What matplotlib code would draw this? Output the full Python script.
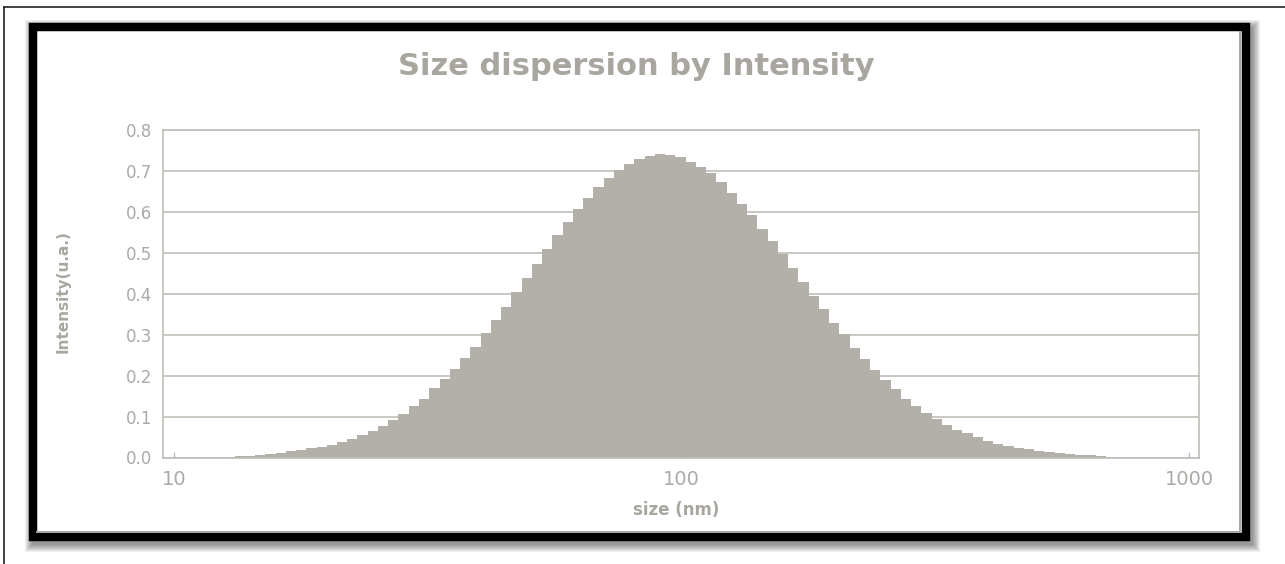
import numpy as np
import matplotlib
matplotlib.use('Agg')
import matplotlib.pyplot as plt
from matplotlib.patches import Rectangle
from matplotlib.lines import Line2D
from matplotlib.ticker import NullLocator

plt.rcParams['font.family'] = ['DejaVu Sans']

# ── data: size classes (bin edges, nm) and intensity per class ──
size_edges = [12.56, 13.16, 13.79, 14.44, 15.13, 15.85, 16.60, 17.39, 18.22, 19.09,
              20.00, 20.95, 21.95, 22.99, 24.09, 25.23, 26.44, 27.69, 29.01, 30.39,
              31.84, 33.36, 34.94, 36.61, 38.35, 40.18, 42.09, 44.09, 46.19, 48.39,
              50.70, 53.11, 55.64, 58.29, 61.06, 63.97, 67.01, 70.20, 73.55, 77.05,
              80.71, 84.56, 88.58, 92.80, 97.22, 101.85, 106.69, 111.77, 117.09, 122.67,
              128.51, 134.63, 141.04, 147.75, 154.78, 162.15, 169.87, 177.96, 186.43, 195.31,
              204.61, 214.35, 224.55, 235.24, 246.44, 258.18, 270.47, 283.35, 296.84, 310.97,
              325.77, 341.28, 357.53, 374.55, 392.38, 411.06, 430.64, 451.14, 472.62, 495.12,
              518.69, 543.39, 569.26, 596.36, 624.75, 654.50, 685.66]
intensity = [0.002, 0.003, 0.004, 0.007, 0.009, 0.012, 0.015, 0.018, 0.022, 0.026,
             0.031, 0.037, 0.044, 0.054, 0.064, 0.078, 0.091, 0.106, 0.126, 0.144,
             0.169, 0.191, 0.215, 0.244, 0.271, 0.304, 0.335, 0.368, 0.405, 0.439,
             0.473, 0.510, 0.543, 0.576, 0.607, 0.633, 0.660, 0.683, 0.703, 0.717,
             0.729, 0.737, 0.741, 0.740, 0.734, 0.723, 0.709, 0.695, 0.674, 0.647,
             0.620, 0.593, 0.559, 0.529, 0.496, 0.462, 0.429, 0.395, 0.362, 0.329,
             0.301, 0.268, 0.241, 0.214, 0.189, 0.168, 0.143, 0.126, 0.109, 0.095,
             0.080, 0.067, 0.059, 0.050, 0.040, 0.033, 0.027, 0.023, 0.020, 0.017,
             0.014, 0.011, 0.009, 0.007, 0.005, 0.004]
x_ticks = [10, 100, 1000]
x_ticklabels = ['10', '100', '1000']
y_ticks = [0.0, 0.1, 0.2, 0.3, 0.4, 0.5, 0.6, 0.7, 0.8]

TITLE = 'Size dispersion by Intensity'
XLABEL = 'size (nm)'
YLABEL = 'Intensity(u.a.)'

BAR = '#B2B0A8'
GRID = '#BFBDB6'
TEXT = '#A8A69F'
TICK = '#AAAAA6'

W, H = 1285, 564
fig = plt.figure(figsize=(W / 100, H / 100), dpi=100)
fig.patch.set_facecolor('white')


def fx(x):
    return x / W


def fy(y):
    return 1 - y / H


def fig_rect(x0, y0, x1, y1, **kw):
    r = Rectangle((fx(x0), fy(y1)), (x1 - x0) / W, (y1 - y0) / H,
                  transform=fig.transFigure, **kw)
    fig.add_artist(r)
    return r


# ── frame: outer thin lines, drop shadow, thick black border ──
fig.add_artist(Line2D([fx(4), fx(W)], [fy(7), fy(7)], transform=fig.transFigure,
                      color='#222222', lw=1.2, zorder=-5))
fig.add_artist(Line2D([fx(4), fx(4)], [fy(7), fy(H)], transform=fig.transFigure,
                      color='#222222', lw=1.2, zorder=-5))
for e in range(7, -1, -1):
    fig_rect(29 + 3 - e, 23 + 4 - e, 1250 + 3 + e, 541 + 4 + e,
             facecolor='black', edgecolor='none', alpha=0.06, zorder=-4)
fig_rect(33, 27.5, 1245.5, 536.5, facecolor='white', edgecolor='black',
         lw=6.1, joinstyle='miter', zorder=-3)
fig.add_artist(Line2D([fx(1240), fx(1240), fx(37)], [fy(32), fy(531.5), fy(531.5)],
                      transform=fig.transFigure, color='#A6A6A6', lw=1.4, zorder=-2))

# ── plot area ──
x_left, x_right, y_top, y_bot = 163, 1199, 130, 457.5
ax = fig.add_axes([fx(x_left), fy(y_bot), (x_right - x_left) / W, (y_bot - y_top) / H])
ax.set_facecolor('white')
ax.set_xscale('log')
ax.set_xlim(10 ** (1 - 11 / 507.5), 10 ** (3 + 10 / 507.5))
ax.set_ylim(0, 0.8)

ax.stairs(intensity, size_edges, fill=True, color=BAR, lw=0, zorder=2)

ax.set_axisbelow(True)
ax.yaxis.grid(True, color=GRID, lw=1.2)
for s in ax.spines.values():
    s.set_color(GRID)
    s.set_linewidth(1.2)

ax.set_xticks(x_ticks)
ax.set_xticklabels(x_ticklabels)
ax.xaxis.set_minor_locator(NullLocator())
ax.set_yticks(y_ticks)
ax.set_yticklabels([f'{v:.1f}' for v in y_ticks])
ax.tick_params(axis='x', direction='in', length=4, width=1, color=GRID,
               labelsize=14, labelcolor=TICK, pad=9)
ax.tick_params(axis='y', length=0, labelsize=12, labelcolor=TICK, pad=8)

fig.text(fx(636), fy(75), TITLE, ha='center', va='baseline', fontsize=22,
         fontweight='bold', color=TEXT)
fig.text(fx(676), fy(510), XLABEL, ha='center', va='center', fontsize=12,
         fontweight='bold', color=TEXT)
fig.text(fx(63.5), fy(292), YLABEL, ha='center', va='center', rotation=90,
         fontsize=11, fontweight='bold', color=TEXT)

fig.savefig('out.png', dpi=100)
